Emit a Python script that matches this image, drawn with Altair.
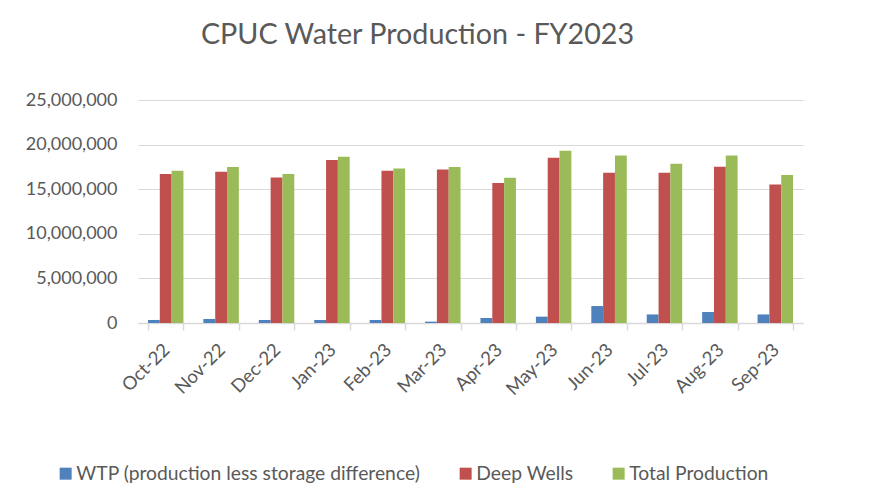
import altair as alt
import pandas as pd

months = ["Oct-22", "Nov-22", "Dec-22", "Jan-23", "Feb-23", "Mar-23",
          "Apr-23", "May-23", "Jun-23", "Jul-23", "Aug-23", "Sep-23"]
series = ["WTP (production less storage difference)", "Deep Wells", "Total Production"]
wtp = [340000, 450000, 340000, 340000, 340000, 150000,
       560000, 710000, 1900000, 960000, 1230000, 960000]
deep_wells = [16700000, 16960000, 16300000, 18270000, 17070000, 17220000,
              15700000, 18530000, 16850000, 16850000, 17520000, 15540000]
total = [17070000, 17500000, 16700000, 18640000, 17330000, 17490000,
         16290000, 19320000, 18790000, 17860000, 18790000, 16590000]
colors = ["#4f81bd", "#c0504d", "#9bbb59"]
y_ticks = [0, 5000000, 10000000, 15000000, 20000000, 25000000]

rows = []
for name, vals in zip(series, [wtp, deep_wells, total]):
    for m, v in zip(months, vals):
        rows.append({"Month": m, "Series": name, "Value": v})
df = pd.DataFrame(rows)

FONT = "Lato"
GREY = "#595959"

chart = alt.Chart(df).mark_bar().encode(
    x=alt.X("Month:N", sort=months, title=None,
            scale=alt.Scale(paddingInner=0.36, paddingOuter=0.18),
            axis=alt.Axis(labelAngle=315, labelFontSize=18.5, labelFont=FONT,
                          labelColor=GREY, domainColor="#d9d9d9", domainWidth=1.5,
                          tickColor="#d9d9d9", tickWidth=1.5, tickSize=7,
                          tickBand="extent", labelPadding=10, labelOffset=-6,
                          grid=False)),
    xOffset=alt.XOffset("Series:N", sort=series,
                        scale=alt.Scale(paddingInner=0, paddingOuter=0)),
    y=alt.Y("Value:Q", title=None,
            scale=alt.Scale(domain=[0, 25000000], nice=False),
            axis=alt.Axis(values=y_ticks, format=",d", labelFontSize=18,
                          labelFont=FONT, labelColor=GREY, domain=False,
                          ticks=False, labelPadding=21, gridColor="#d9d9d9",
                          gridWidth=1.2)),
    color=alt.Color("Series:N", sort=series,
                    scale=alt.Scale(domain=series, range=colors),
                    legend=alt.Legend(orient="none", legendX=-82, legendY=364,
                                      direction="horizontal", title=None,
                                      symbolType="square", symbolSize=144,
                                      symbolStrokeWidth=0, labelFontSize=19.3,
                                      labelFont=FONT, labelColor=GREY,
                                      labelLimit=1000,
                                      columnPadding=35, labelOffset=1,
                                      padding=0)),
).properties(
    width=665,
    height=223,
    title=alt.TitleParams("CPUC Water Production - FY2023", font=FONT,
                          fontSize=28.7, fontWeight="normal", color=GREY,
                          anchor="middle", frame="group", dx=-53, offset=41),
    autosize=alt.AutoSizeParams(type="none"),
    padding={"left": 130, "top": 92, "right": 62, "bottom": 172},
    background="white",
).configure_view(stroke=None, strokeWidth=0)

chart.save("out.html", embed_options={"renderer": "svg", "actions": False})
